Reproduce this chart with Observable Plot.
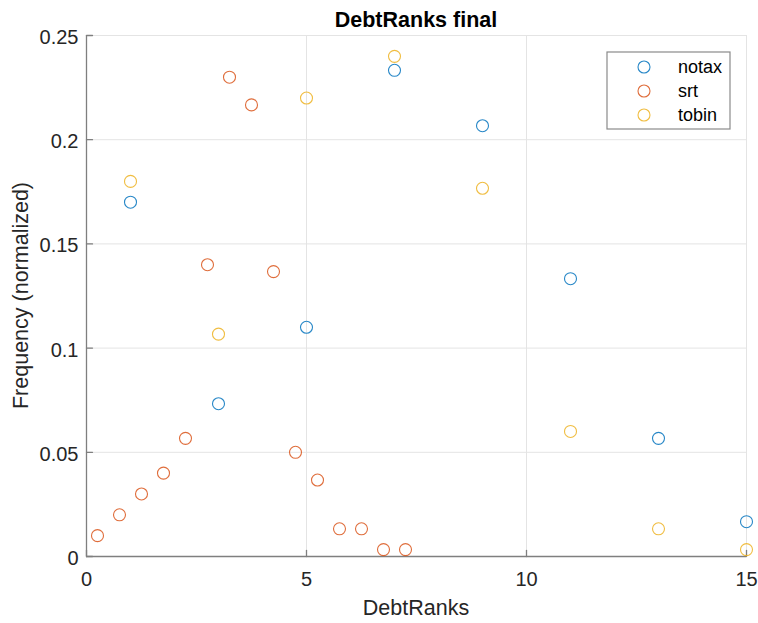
<!DOCTYPE html>
<html>
<head>
<meta charset="utf-8">
<script src="https://cdn.jsdelivr.net/npm/d3@7"></script>
<script src="https://cdn.jsdelivr.net/npm/@observablehq/plot@0.6"></script>
<style>
  body { margin: 0; background: #fff; }
  #chart svg { display: block; }
</style>
</head>
<body>
<div id="chart"></div>
<script>
// Series and their colours (MATLAB default order)
const seriesNames = ["notax", "srt", "tobin"];
const seriesColors = ["#0072BD", "#D95319", "#EDB120"];

// notax and tobin are binned on odd ranks
const oddRanks = [1, 3, 5, 7, 9, 11, 13, 15];
const notaxFreq = [0.17, 0.0733, 0.11, 0.2333, 0.2067, 0.1333, 0.0567, 0.0167];
const tobinFreq = [0.18, 0.1067, 0.22, 0.24, 0.1767, 0.06, 0.0133, 0.0033];

// srt is binned on half-unit steps
const srtRanks = [0.25, 0.75, 1.25, 1.75, 2.25, 2.75, 3.25, 3.75, 4.25, 4.75, 5.25, 5.75, 6.25, 6.75, 7.25];
const srtFreq = [0.01, 0.02, 0.03, 0.04, 0.0567, 0.14, 0.23, 0.2167, 0.1367, 0.05, 0.0367, 0.0133, 0.0133, 0.0033, 0.0033];

// Axis ticks and labels
const xTicks = [0, 5, 10, 15];
const yTicks = [0, 0.05, 0.1, 0.15, 0.2, 0.25];
const yTickLabels = ["0", "0.05", "0.1", "0.15", "0.2", "0.25"];
const titleText = "DebtRanks final";
const xLabelText = "DebtRanks";
const yLabelText = "Frequency (normalized)";

const points = [
  ...oddRanks.map((r, i) => ({series: "notax", rank: r, freq: notaxFreq[i]})),
  ...srtRanks.map((r, i) => ({series: "srt", rank: r, freq: srtFreq[i]})),
  ...oddRanks.map((r, i) => ({series: "tobin", rank: r, freq: tobinFreq[i]}))
];

const W = 758, H = 623;
const mL = 86, mR = 12, mT = 35, mB = 67;
const font = "'Liberation Sans', Arial, Helvetica, sans-serif";
const axisGray = "#7f7f7f";
const textDark = "#262626";

// short inward tick drawn from the anchor point
const tickShape = {draw(ctx, l) { ctx.moveTo(0, 0); ctx.lineTo(0, -l); }};

const chart = Plot.plot({
  width: W,
  height: H,
  marginLeft: mL,
  marginRight: mR,
  marginTop: mT,
  marginBottom: mB,
  style: {fontFamily: font, background: "#fff"},
  x: {domain: [0, 15], label: null},
  y: {domain: [0, 0.25], label: null},
  color: {domain: seriesNames, range: seriesColors},
  marks: [
    Plot.gridX(xTicks, {stroke: "#e4e4e4", strokeOpacity: 1, strokeWidth: 1}),
    Plot.gridY(yTicks, {stroke: "#e4e4e4", strokeOpacity: 1, strokeWidth: 1}),
    Plot.ruleY([0], {stroke: axisGray, strokeWidth: 1.3}),
    Plot.ruleX([0], {stroke: axisGray, strokeWidth: 1.3}),
    Plot.vector(xTicks, {x: d => d, y: 0, length: 6, rotate: 0, anchor: "start", shape: tickShape, stroke: axisGray, strokeWidth: 1.3}),
    Plot.vector(yTicks, {x: 0, y: d => d, length: 6, rotate: 90, anchor: "start", shape: tickShape, stroke: axisGray, strokeWidth: 1.3}),
    Plot.axisX(xTicks, {tickSize: 0, tickPadding: 15, fontSize: 20, fill: textDark, label: null, tickFormat: d => String(d)}),
    Plot.axisY(yTicks, {tickSize: 0, tickPadding: 8, fontSize: 20, fill: textDark, label: null, dy: 2,
      tickFormat: d => yTickLabels[yTicks.indexOf(d)]}),
    Plot.dot(points, {x: "rank", y: "freq", stroke: "series", r: 6, strokeWidth: 1.1, strokeOpacity: 0.85, fill: "none"})
  ]
});

const svg = d3.select(chart);
const cx = (mL + (W - mR)) / 2;
const cy = (mT + (H - mB)) / 2;

// title and axis labels
svg.append("text").attr("x", cx).attr("y", 27).attr("text-anchor", "middle")
  .attr("font-family", font).attr("font-size", 21.5).attr("font-weight", "bold").attr("fill", "#000")
  .text(titleText);
svg.append("text").attr("x", cx).attr("y", 615).attr("text-anchor", "middle")
  .attr("font-family", font).attr("font-size", 21.5).attr("fill", textDark)
  .text(xLabelText);
svg.append("text").attr("transform", `translate(28,${cy}) rotate(-90)`).attr("text-anchor", "middle")
  .attr("font-family", font).attr("font-size", 21.5).attr("fill", textDark)
  .text(yLabelText);

// legend box
const lg = svg.append("g");
lg.append("rect").attr("x", 607).attr("y", 52).attr("width", 123).attr("height", 77)
  .attr("fill", "#fff").attr("stroke", "#8a8a8a").attr("stroke-width", 1.2);
seriesNames.forEach((name, i) => {
  const yy = 67 + i * 24;
  lg.append("circle").attr("cx", 644).attr("cy", yy).attr("r", 6)
    .attr("fill", "none").attr("stroke", seriesColors[i]).attr("stroke-width", 1.1).attr("stroke-opacity", 0.85);
  lg.append("text").attr("x", 678).attr("y", yy).attr("dy", "0.35em").attr("text-anchor", "start")
    .attr("font-family", font).attr("font-size", 18).attr("fill", "#000")
    .text(name);
});

document.getElementById("chart").appendChild(chart);
</script>
</body>
</html>
